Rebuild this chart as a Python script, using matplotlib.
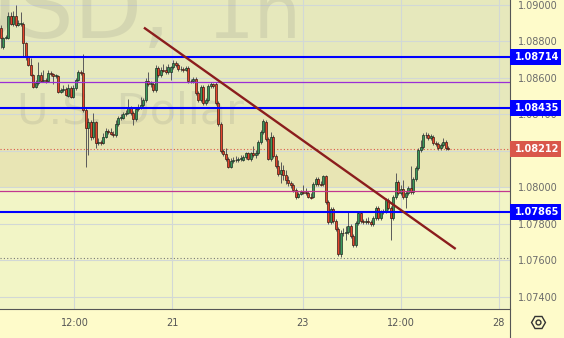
import matplotlib
matplotlib.use("Agg")
import matplotlib.pyplot as plt
from matplotlib.patches import Rectangle
from matplotlib.lines import Line2D
import matplotlib.transforms as mtransforms
import numpy as np

# ---------------- data ----------------
opens = [1.08874,1.08770,1.08819,1.08819,1.08940,1.08896,1.08940,1.08890,1.08896,1.08896,
 1.08792,1.08715,1.08672,1.08616,1.08551,1.08573,1.08616,1.08584,1.08589,1.08584,
 1.08627,1.08622,1.08611,1.08611,1.08523,1.08534,1.08540,1.08501,1.08545,1.08496,
 1.08545,1.08589,1.08633,1.08627,1.08425,1.08326,1.08359,1.08277,1.08359,1.08244,
 1.08249,1.08244,1.08277,1.08310,1.08304,1.08293,1.08288,1.08348,1.08381,1.08381,
 1.08403,1.08408,1.08436,1.08408,1.08375,1.08430,1.08441,1.08452,1.08479,1.08584,
 1.08567,1.08567,1.08534,1.08655,1.08616,1.08644,1.08644,1.08633,1.08633,1.08660,
 1.08682,1.08672,1.08649,1.08649,1.08644,1.08655,1.08584,1.08584,1.08594,1.08518,
 1.08479,1.08551,1.08463,1.08479,1.08556,1.08567,1.08567,1.08463,1.08348,1.08200,
 1.08183,1.08156,1.08112,1.08145,1.08151,1.08151,1.08156,1.08151,1.08167,1.08189,
 1.08156,1.08189,1.08178,1.08189,1.08249,1.08304,1.08359,1.08266,1.08156,1.08277,
 1.08173,1.08118,1.08074,1.08096,1.08068,1.08041,1.08024,1.08014,1.07986,1.07948,
 1.07964,1.07975,1.07975,1.07970,1.07948,1.07948,1.08019,1.08046,1.08019,1.08019,
 1.08063,1.07920,1.07811,1.07882,1.07816,1.07773,1.07636,1.07751,1.07751,1.07756,
 1.07789,1.07734,1.07685,1.07805,1.07860,1.07816,1.07811,1.07816,1.07811,1.07800,
 1.07833,1.07888,1.07833,1.07866,1.07871,1.07931,1.07888,1.07833,1.07948,1.08030,
 1.07970,1.07992,1.07948,1.07970,1.07997,1.07975,1.08046,1.08107,1.08205,1.08222,
 1.08288,1.08288,1.08271,1.08277,1.08244,1.08238,1.08216,1.08233,1.08249,1.08216]
highs = [1.08890,1.08825,1.08836,1.08962,1.08962,1.08967,1.09000,1.08918,1.08962,1.08907,
 1.08797,1.08721,1.08710,1.08622,1.08589,1.08688,1.08633,1.08644,1.08600,1.08644,
 1.08638,1.08627,1.08622,1.08616,1.08545,1.08562,1.08551,1.08567,1.08556,1.08562,
 1.08600,1.08644,1.08644,1.08732,1.08436,1.08381,1.08370,1.08408,1.08364,1.08271,
 1.08260,1.08299,1.08326,1.08321,1.08326,1.08310,1.08370,1.08392,1.08403,1.08414,
 1.08425,1.08485,1.08447,1.08419,1.08441,1.08457,1.08496,1.08490,1.08600,1.08633,
 1.08584,1.08578,1.08672,1.08666,1.08660,1.08677,1.08666,1.08677,1.08666,1.08699,
 1.08693,1.08682,1.08666,1.08660,1.08666,1.08666,1.08594,1.08605,1.08605,1.08529,
 1.08562,1.08562,1.08490,1.08567,1.08578,1.08573,1.08578,1.08474,1.08359,1.08211,
 1.08216,1.08167,1.08162,1.08167,1.08173,1.08167,1.08178,1.08178,1.08194,1.08194,
 1.08194,1.08227,1.08205,1.08260,1.08315,1.08375,1.08370,1.08277,1.08304,1.08288,
 1.08183,1.08151,1.08140,1.08123,1.08096,1.08063,1.08035,1.08024,1.07997,1.07975,
 1.07986,1.08014,1.07997,1.07981,1.07970,1.08030,1.08057,1.08057,1.08035,1.08068,
 1.08068,1.07931,1.07893,1.07893,1.07827,1.07783,1.07767,1.07778,1.07789,1.07866,
 1.07800,1.07745,1.07816,1.07871,1.07871,1.07827,1.07833,1.07838,1.07822,1.07844,
 1.07898,1.07898,1.07877,1.07882,1.07942,1.07942,1.07898,1.07959,1.08079,1.08041,
 1.08014,1.08041,1.07981,1.08008,1.08118,1.08057,1.08118,1.08216,1.08260,1.08299,
 1.08304,1.08299,1.08293,1.08288,1.08255,1.08249,1.08244,1.08271,1.08260,1.08227]
lows = [1.08764,1.08759,1.08814,1.08814,1.08890,1.08885,1.08879,1.08885,1.08885,1.08715,
 1.08699,1.08666,1.08611,1.08545,1.08545,1.08562,1.08578,1.08578,1.08573,1.08578,
 1.08611,1.08567,1.08600,1.08518,1.08518,1.08523,1.08501,1.08496,1.08490,1.08490,
 1.08534,1.08584,1.08616,1.08414,1.08112,1.08178,1.08260,1.08266,1.08216,1.08233,
 1.08233,1.08238,1.08271,1.08293,1.08288,1.08277,1.08277,1.08337,1.08370,1.08375,
 1.08392,1.08403,1.08397,1.08342,1.08364,1.08419,1.08430,1.08441,1.08468,1.08556,
 1.08551,1.08523,1.08523,1.08605,1.08605,1.08633,1.08622,1.08622,1.08589,1.08649,
 1.08660,1.08638,1.08638,1.08633,1.08638,1.08573,1.08573,1.08573,1.08507,1.08468,
 1.08468,1.08452,1.08452,1.08468,1.08545,1.08545,1.08452,1.08337,1.08189,1.08173,
 1.08145,1.08107,1.08107,1.08134,1.08140,1.08140,1.08145,1.08145,1.08156,1.08151,
 1.08145,1.08167,1.08162,1.08178,1.08238,1.08293,1.08255,1.08151,1.08145,1.08162,
 1.08107,1.08063,1.08024,1.08041,1.08019,1.08008,1.07997,1.07975,1.07937,1.07942,
 1.07959,1.07964,1.07959,1.07942,1.07937,1.07942,1.08008,1.08008,1.08008,1.08008,
 1.07909,1.07800,1.07800,1.07805,1.07761,1.07624,1.07619,1.07734,1.07712,1.07745,
 1.07723,1.07674,1.07674,1.07794,1.07805,1.07800,1.07800,1.07800,1.07789,1.07789,
 1.07822,1.07822,1.07822,1.07855,1.07860,1.07877,1.07712,1.07822,1.07937,1.07959,
 1.07959,1.07937,1.07888,1.07959,1.07964,1.07964,1.08035,1.08096,1.08194,1.08211,
 1.08271,1.08260,1.08260,1.08233,1.08227,1.08205,1.08205,1.08222,1.08205,1.08205]
closes = [1.08819,1.08819,1.08825,1.08940,1.08896,1.08940,1.08890,1.08901,1.08899,1.08792,
 1.08715,1.08672,1.08616,1.08551,1.08573,1.08616,1.08584,1.08589,1.08584,1.08627,
 1.08622,1.08611,1.08616,1.08523,1.08534,1.08540,1.08507,1.08545,1.08496,1.08545,
 1.08589,1.08633,1.08627,1.08425,1.08326,1.08359,1.08277,1.08359,1.08244,1.08249,
 1.08244,1.08277,1.08310,1.08304,1.08293,1.08288,1.08348,1.08381,1.08386,1.08403,
 1.08408,1.08436,1.08408,1.08375,1.08430,1.08441,1.08452,1.08479,1.08584,1.08567,
 1.08570,1.08534,1.08655,1.08616,1.08644,1.08641,1.08633,1.08660,1.08660,1.08682,
 1.08672,1.08649,1.08652,1.08644,1.08655,1.08584,1.08581,1.08594,1.08518,1.08479,
 1.08551,1.08463,1.08479,1.08556,1.08567,1.08556,1.08463,1.08348,1.08200,1.08183,
 1.08156,1.08112,1.08145,1.08151,1.08148,1.08156,1.08162,1.08167,1.08189,1.08156,
 1.08189,1.08178,1.08189,1.08249,1.08304,1.08364,1.08266,1.08156,1.08277,1.08173,
 1.08118,1.08074,1.08096,1.08068,1.08041,1.08024,1.08014,1.07986,1.07948,1.07964,
 1.07975,1.07972,1.07970,1.07948,1.07945,1.08019,1.08046,1.08019,1.08016,1.08063,
 1.07920,1.07811,1.07882,1.07816,1.07773,1.07636,1.07751,1.07748,1.07756,1.07789,
 1.07734,1.07685,1.07805,1.07860,1.07816,1.07811,1.07816,1.07811,1.07800,1.07833,
 1.07888,1.07833,1.07866,1.07871,1.07931,1.07888,1.07833,1.07948,1.08030,1.07970,
 1.07992,1.07948,1.07970,1.07997,1.07975,1.08046,1.08107,1.08205,1.08222,1.08288,
 1.08285,1.08271,1.08282,1.08244,1.08238,1.08216,1.08233,1.08249,1.08216,1.08212]

level_lines = [1.08714, 1.08435, 1.07865]     # blue horizontal levels (with tags)
purple_level = 1.08578
magenta_level = 1.07981
last_price = 1.08212
low_level = 1.07614
band_top = [1.08435, 1.09100]
band_mid = [1.08000, 1.08435]
trend_x = [57.3, 182.0]
trend_y = [1.08876, 1.07663]

y_ticks = [1.074, 1.076, 1.078, 1.080, 1.082, 1.084, 1.086, 1.088, 1.090]
y_tick_labels = ["1.07400", "1.07600", "1.07800", "1.08000", "", "1.08400",
                 "1.08600", "1.08800", "1.09000"]
x_tick_pos = [29.5, 68.5, 120.8, 160.1, 199.2]
x_tick_labels = ["12:00", "21", "23", "12:00", "28"]

# ---------------- figure ----------------
W, H = 564, 338
DPI = 100
fig = plt.figure(figsize=(W / DPI, H / DPI), dpi=DPI, facecolor="#fefbca")
ax_w_px, ax_h_px = 509.5, 309
ax = fig.add_axes([0, (H - ax_h_px) / H, ax_w_px / W, ax_h_px / H])
ax.set_facecolor("#f2f5c6")

ax.set_xlim(-0.28, 203.52)
ax.set_ylim(1.07334, 1.090274)

# bands
ax.axhspan(band_top[0], band_top[1], color="#e6e8bc", zorder=0, lw=0)
ax.axhspan(band_mid[0], band_mid[1], color="#e8e5b4", zorder=0, lw=0)

# grid
for yt in y_ticks:
    ax.axhline(yt, color="#d2d8d6", lw=0.8, zorder=1)
for xt in x_tick_pos:
    ax.axvline(xt, color="#d2d8d6", lw=0.8, zorder=1)

# watermark
wm_color = (0.45, 0.45, 0.45, 0.15)
ax.text(171 / ax_w_px, 1 - 38 / ax_h_px, "EURUSD,", transform=ax.transAxes,
        ha="right", va="baseline", fontsize=64, color=wm_color, zorder=1.5, clip_on=True)
ax.text(207 / ax_w_px, 1 - 38 / ax_h_px, "1h", transform=ax.transAxes,
        ha="left", va="baseline", fontsize=54, color=wm_color, zorder=1.5, clip_on=True)
ax.text(17 / ax_w_px, 1 - 123 / ax_h_px, "U.S. Dollar", transform=ax.transAxes,
        ha="left", va="baseline", fontsize=31, color=wm_color, zorder=1.5, clip_on=True)

# candles
o = np.array(opens); h = np.array(highs); l = np.array(lows); c = np.array(closes)
x = np.arange(len(c))
up = c >= o
ax.vlines(x, l, h, color="#5a5a5a", lw=0.7, zorder=3)
body_h = np.maximum(np.abs(c - o), 0.000025)
body_b = np.minimum(o, c)
ax.bar(x[up], body_h[up], bottom=body_b[up], width=0.85, color="#3a9a5b",
       edgecolor="#1d2e22", linewidth=0.5, zorder=3.2)
ax.bar(x[~up], body_h[~up], bottom=body_b[~up], width=0.85, color="#e6452d",
       edgecolor="#3a1a12", linewidth=0.5, zorder=3.2)

# level lines
for lv in level_lines:
    ax.axhline(lv, color="#0000ff", lw=1.5, zorder=4)
ax.axhline(purple_level, color="#9b2fd6", lw=0.9, zorder=4)
ax.axhline(magenta_level, color="#c2378f", lw=0.9, zorder=4)
ax.axhline(last_price, color="#d9574a", lw=0.8, ls=(0, (1, 2)), zorder=2)
ax.axhline(low_level, color="#777777", lw=0.8, ls=(0, (1, 2)), zorder=2)

# trend line
ax.plot(trend_x, trend_y, color="#8b1d1d", lw=1.7, zorder=5, solid_capstyle="butt")

# axes styling
for s in ["left", "top"]:
    ax.spines[s].set_visible(False)
for s in ["bottom", "right"]:
    ax.spines[s].set_color("#555555")
    ax.spines[s].set_linewidth(0.8)
ax.yaxis.tick_right()
ax.set_yticks(y_ticks)
ax.set_yticklabels(y_tick_labels)
ax.tick_params(axis="y", length=0, pad=6.1, labelsize=7, labelcolor="#6b6b6b")
ax.set_xticks(x_tick_pos)
ax.set_xticklabels(x_tick_labels)
ax.tick_params(axis="x", length=0, pad=6.5, labelsize=7, labelcolor="#555555")

# right spine extension through bottom strip
fig.add_artist(Line2D([ax_w_px / W, ax_w_px / W], [0, (H - ax_h_px) / H],
                      color="#555555", lw=0.8, transform=fig.transFigure))

# price tags
trans = mtransforms.blended_transform_factory(ax.transAxes, ax.transData)
px_to_price = (1.090274 - 1.07334) / ax_h_px
tag_h = 16 * px_to_price
tag_x0 = 1.0 + 0.8 / ax_w_px
tag_w = 51 / ax_w_px
text_x = 1.0 + 28 / ax_w_px
tags = [(v, "#0000ff") for v in level_lines] + [(last_price, "#d9574a")]
for val, col in tags:
    ax.add_patch(Rectangle((tag_x0, val - tag_h / 2), tag_w, tag_h, transform=trans,
                           facecolor=col, edgecolor="none", clip_on=False, zorder=10))
    ax.text(text_x, val, f"{val:.5f}", transform=trans, ha="center", va="center",
            fontsize=7, fontweight="bold", color="white", clip_on=False, zorder=11)

# settings gear icon
gx, gy = 538 / W, 1 - 322 / H
fig.add_artist(Line2D([gx], [gy], marker="H", markersize=10, mfc="none", mec="#333333",
                      mew=1.0, transform=fig.transFigure))
fig.add_artist(Line2D([gx], [gy], marker="o", markersize=3.5, mfc="none", mec="#333333",
                      mew=1.0, transform=fig.transFigure))

fig.savefig("out.png", dpi=DPI, facecolor=fig.get_facecolor())
